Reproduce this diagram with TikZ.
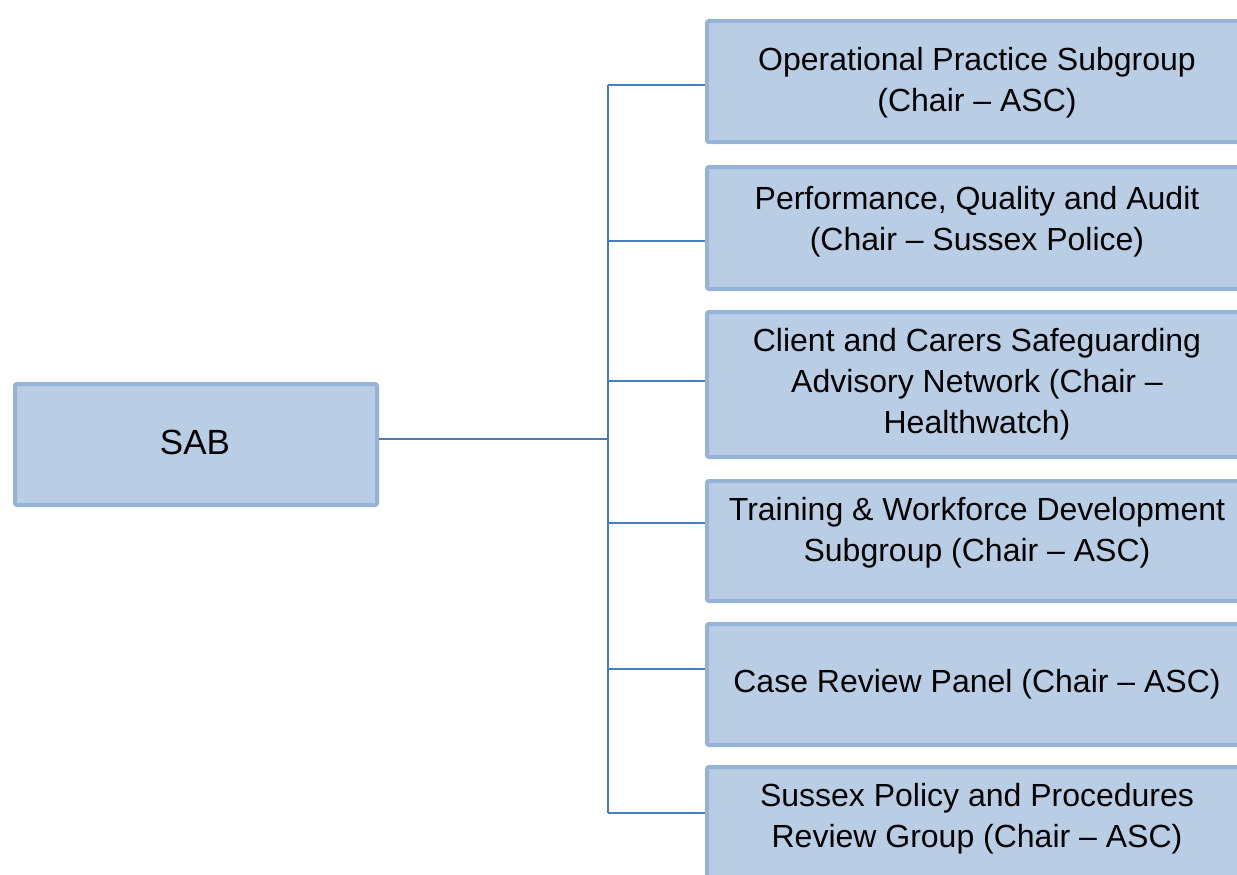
\documentclass[tikz,border=0pt]{standalone}
\usepackage{fontspec}
\setmainfont{Liberation Sans}
\definecolor{boxfill}{HTML}{B9CDE5}
\definecolor{boxline}{HTML}{95B3D7}
\definecolor{conn}{HTML}{4A7EBB}
\begin{document}
\begin{tikzpicture}[x=1pt,y=-1pt,
  box/.style={draw=boxline,fill=boxfill,line width=4pt,rounded corners=2pt,inner sep=0pt,anchor=north west},
  label/.style={font=\fontsize{32}{41}\selectfont,align=center,inner sep=0pt,text=black},
  link/.style={draw=conn,line width=1.6pt}]
\useasboundingbox (0,0) rectangle (1237,875);
\clip (0,0) rectangle (1237,875);
% SAB
\node[box,minimum width=362pt,minimum height=121pt] (sab) at (13,382) {};
\node[label,font=\fontsize{35}{41}\selectfont] (sabt) at (195,442) {SAB};
% right boxes
\node[box,minimum width=560pt,minimum height=121pt] (b1) at (705,19) {};
\node[box,minimum width=560pt,minimum height=122pt] (b2) at (705,165) {};
\node[box,minimum width=560pt,minimum height=145pt] (b3) at (705,310) {};
\node[box,minimum width=560pt,minimum height=120pt] (b4) at (705,479) {};
\node[box,minimum width=560pt,minimum height=121pt] (b5) at (705,622) {};
\node[box,minimum width=560pt,minimum height=130pt] (b6) at (705,765) {};
\node[label] (t1) at (977,83) {Operational Practice Subgroup\\(Chair – ASC)};
\node[label] (t2) at (977,222) {Performance, Quality and Audit\\(Chair – Sussex Police)};
\node[label] (t3) at (977,384) {Client and Carers Safeguarding\\Advisory Network (Chair –\\Healthwatch)};
\node[label] (t4) at (977,533) {Training \& Workforce Development\\Subgroup (Chair – ASC)};
\node[label] (t5) at (977,684) {Case Review Panel (Chair – ASC)};
\node[label] (t6) at (977,819) {Sussex Policy and Procedures\\Review Group (Chair – ASC)};
% connectors
\coordinate (j) at (608,439);
\coordinate (c1) at (608,85);
\coordinate (c2) at (608,241);
\coordinate (c3) at (608,381);
\coordinate (c4) at (608,523);
\coordinate (c5) at (608,669);
\coordinate (c6) at (608,813);
\draw[link] (sab.east |- j) -- (j);
\draw[link] (c1) -- (c6);
\draw[link] (c1) -- (c1 -| b1.west);
\draw[link] (c2) -- (c2 -| b2.west);
\draw[link] (c3) -- (c3 -| b3.west);
\draw[link] (c4) -- (c4 -| b4.west);
\draw[link] (c5) -- (c5 -| b5.west);
\draw[link] (c6) -- (c6 -| b6.west);
\end{tikzpicture}
\end{document}
